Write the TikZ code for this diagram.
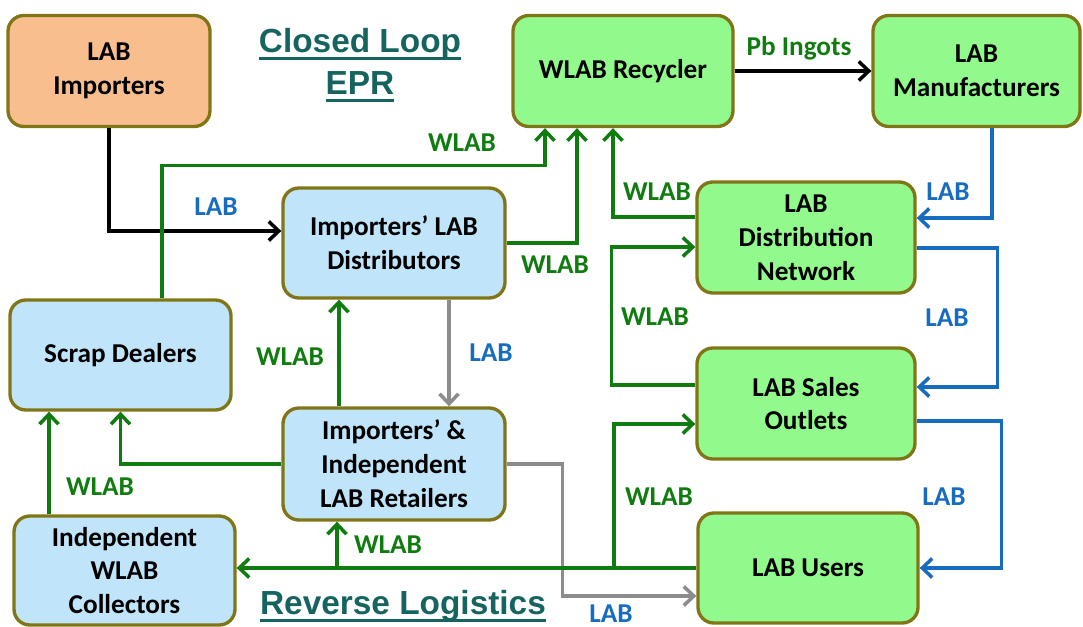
\documentclass[tikz,border=0pt]{standalone}
\usepackage{fontspec}
\setmainfont{Carlito}
\newfontfamily\titlefont{Liberation Sans}
\usepackage{xcolor}
\usepackage{tikz}
\usetikzlibrary{arrows.meta,positioning}
\definecolor{boxgreen}{RGB}{146, 250, 140}
\definecolor{boxblue}{RGB}{192, 228, 250}
\definecolor{boxorange}{RGB}{249, 190, 142}
\definecolor{boxedge}{RGB}{128, 118, 24}
\definecolor{flowgreen}{RGB}{16, 124, 16}
\definecolor{flowblue}{RGB}{24, 108, 192}
\definecolor{flowgray}{RGB}{140, 140, 140}
\definecolor{titleteal}{RGB}{22, 100, 96}
\newcommand{\headline}[1]{\leavevmode\setbox0=\hbox{#1}\rlap{\smash{\rule[-4.5pt]{\wd0}{1.8pt}}}\box0}

\begin{document}
\begin{tikzpicture}[
    box/.style={draw=boxedge, line width=1.9pt, rounded corners=9pt, align=center,
        font=\bfseries\fontsize{15.5}{19.3}\selectfont, minimum width=4.4cm, minimum height=2.22cm, inner sep=2pt},
    tip/.style={-{Straight Barb[length=2mm,width=3.8mm]}},
    grn/.style={tip, draw=flowgreen, line width=2pt},
    blu/.style={tip, draw=flowblue, line width=2pt},
    gry/.style={tip, draw=flowgray, line width=2pt},
    blk/.style={tip, draw=black, line width=2pt},
    lbl/.style={font=\bfseries\fontsize{15.5}{19}\selectfont},
    heading/.style={font=\titlefont\bfseries\fontsize{19}{24}\selectfont, text=titleteal, align=center}
]
    \useasboundingbox (0,0) rectangle (21.66,12.52);

    % Boxes, top row
    \node[box, fill=boxorange, minimum width=4.04cm] (imp) at (2.18,11.1) {LAB\\Importers};
    \node[box, fill=boxgreen] (rec) at (12.46,11.1) {WLAB Recycler};
    \node[box, fill=boxgreen, minimum width=4.14cm] (man) at (19.53,11.1) {LAB\\Manufacturers};

    % Boxes, left side
    \node[box, fill=boxblue, minimum width=4.44cm, minimum height=2.2cm] (dist) at (7.88,7.66) {Importers’ LAB\\Distributors};
    \node[box, fill=boxblue, minimum width=4.42cm, minimum height=2.2cm] (scrap) at (2.41,5.42) {Scrap Dealers};
    \node[box, fill=boxblue, minimum width=4.44cm, minimum height=2.24cm] (ret) at (7.88,3.24) {Importers’ \&\\Independent\\LAB Retailers};
    \node[box, fill=boxblue, minimum width=4.42cm, minimum height=2.18cm] (coll) at (2.49,1.11) {Independent\\WLAB\\Collectors};

    % Boxes, right side
    \node[box, fill=boxgreen, minimum width=4.36cm] (net) at (16.12,7.77) {LAB\\Distribution\\Network};
    \node[box, fill=boxgreen, minimum width=4.36cm] (out) at (16.12,4.45) {LAB Sales\\Outlets};
    \node[box, fill=boxgreen, minimum height=2.2cm] (users) at (16.16,1.16) {LAB Users};

    % Headings
    \node[heading] (tclosed) at (7.2,11.3) {\headline{Closed Loop}\\\headline{EPR}};
    \node[heading] (trev) at (8.06,0.4) {\headline{Reverse Logistics}};

    % New batteries (LAB)
    \draw[blk] (imp.south) |- ([yshift=0.24cm]dist.west);
    \draw[blk] (rec.east) -- (man.west);
    \draw[blu] ([xshift=0.31cm]man.south) |- ([yshift=0.39cm]net.east);
    \draw[blu] ([yshift=-0.21cm]net.east) -- ++(1.62,0) |- ([yshift=0.33cm]out.east);
    \draw[blu] ([yshift=-0.35cm]out.east) -- ++(1.7,0) |- (users.east);
    \draw[gry] ([xshift=1.1cm]dist.south) -- ([xshift=1.1cm]ret.north);
    \draw[gry] (ret.east) -- ++(1.12,0) |- ([yshift=-0.56cm]users.west);

    % Waste batteries (WLAB)
    \coordinate (jo) at (12.28,1.16);
    \coordinate (jr) at (6.74,1.16);
    \coordinate (cl) at ([xshift=-1.51cm]coll.north);
    \draw[grn] (users.west) -- (users.west -| coll.east);
    \draw[grn] (jo) |- ([yshift=-0.41cm]out.west);
    \draw[grn] (jr) -- (jr |- ret.south);
    \draw[grn] ([yshift=0.37cm]out.west) -- ++(-1.68,0) |- ([yshift=-0.19cm]net.west);
    \draw[grn] ([yshift=0.41cm]net.west) -| ([xshift=-0.2cm]rec.south);
    \draw[grn] ([xshift=-1.1cm]ret.north) -- ([xshift=-1.1cm]dist.south);
    \draw[grn] (ret.west) -| (scrap.south);
    \draw[grn] (cl) -- (cl |- scrap.south);
    \draw[grn] ([xshift=0.83cm]scrap.north) -- ++(0,2.66) -| ([xshift=-1.56cm]rec.south);
    \draw[grn] (dist.east) -| ([xshift=-0.92cm]rec.south);

    % Labels
    \node[lbl, flowgreen] (lpb) at (15.98,11.56) {Pb Ingots};
    \node[lbl, flowblue] (l1) at (4.32,8.38) {LAB};
    \node[lbl, flowblue] (l2) at (18.96,8.68) {LAB};
    \node[lbl, flowblue] (l3) at (18.94,6.16) {LAB};
    \node[lbl, flowblue] (l4) at (18.88,2.58) {LAB};
    \node[lbl, flowblue] (l5) at (9.82,5.46) {LAB};
    \node[lbl, flowblue] (l6) at (12.22,0.24) {LAB};
    \node[lbl, flowgreen] (w1) at (9.24,9.66) {WLAB};
    \node[lbl, flowgreen] (w2) at (11.1,7.22) {WLAB};
    \node[lbl, flowgreen] (w3) at (13.14,8.68) {WLAB};
    \node[lbl, flowgreen] (w4) at (13.1,6.18) {WLAB};
    \node[lbl, flowgreen] (w5) at (13.18,2.58) {WLAB};
    \node[lbl, flowgreen] (w6) at (5.8,5.38) {WLAB};
    \node[lbl, flowgreen] (w7) at (2.0,2.78) {WLAB};
    \node[lbl, flowgreen] (w8) at (7.76,1.62) {WLAB};
\end{tikzpicture}
\end{document}
